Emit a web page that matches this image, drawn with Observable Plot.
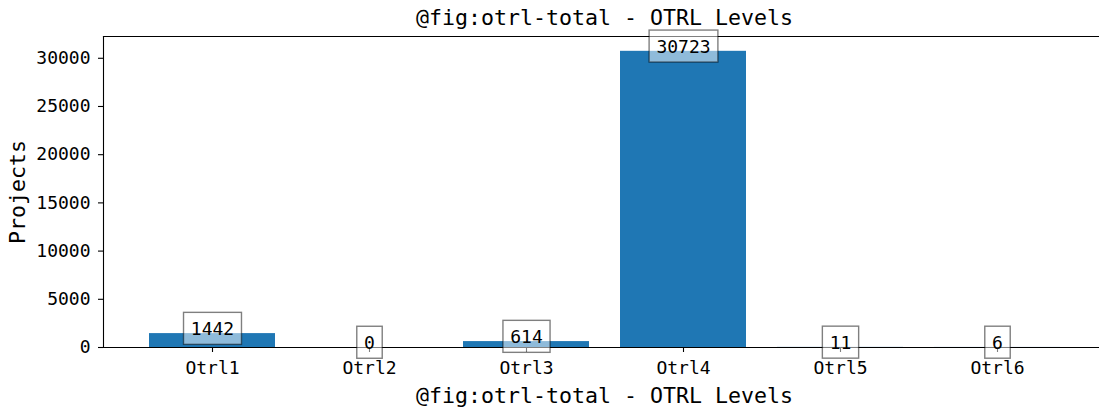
<!DOCTYPE html>
<html><head><meta charset="utf-8">
<script src="https://cdn.jsdelivr.net/npm/d3@7"></script>
<script src="https://cdn.jsdelivr.net/npm/@observablehq/plot@0.6"></script>
<style>body{margin:0;background:#fff} svg{font-family:"DejaVu Sans Mono",monospace}</style>
</head><body><div id="chart"></div>
<script>
const categories = ["Otrl1", "Otrl2", "Otrl3", "Otrl4", "Otrl5", "Otrl6"];
const values = [1442, 0, 614, 30723, 11, 6];
const yTicks = [0, 5000, 10000, 15000, 20000, 25000, 30000];
const titleText = "@fig:otrl-total - OTRL Levels";
const xLabel = "@fig:otrl-total - OTRL Levels";
const yLabel = "Projects";
const yMax = 32259;

const data = categories.map((c, i) => ({level: c, count: values[i]}));

const chart = Plot.plot({
  width: 1099, height: 410,
  marginLeft: 103, marginRight: 0, marginTop: 36, marginBottom: 63,
  style: {fontFamily: "DejaVu Sans Mono", fontSize: "18px", color: "#000", background: "#fff", overflow: "visible"},
  x: {type: "band", domain: categories, range: [133.5, 1075.5], paddingInner: 0.2, paddingOuter: 0.1, label: null},
  y: {domain: [0, yMax], label: null},
  marks: [
    Plot.barY(data, {x: "level", y: "count", fill: "#1f77b4"}),
    Plot.frame({anchor: "left", strokeWidth: 1.1}),
    Plot.frame({anchor: "top", strokeWidth: 1.1}),
    Plot.frame({anchor: "bottom", strokeWidth: 1.1}),
    Plot.axisX({tickSize: 5, tickPadding: 9, fontSize: 18, label: null, strokeWidth: 1.1}),
    Plot.axisY({ticks: yTicks, tickSize: 5, tickPadding: 8, fontSize: 18, label: null, strokeWidth: 1.1, tickFormat: d => String(d)}),
    Plot.text([titleText], {frameAnchor: "top", lineAnchor: "middle", dx: 3, dy: -18, fontSize: 21.6, fill: "#000"}),
    Plot.text([xLabel], {frameAnchor: "bottom", lineAnchor: "middle", dx: 3, dy: 49, fontSize: 21.6, fill: "#000"}),
    Plot.text([yLabel], {frameAnchor: "left", textAnchor: "middle", lineAnchor: "middle", dx: -85, rotate: -90, fontSize: 21.6, fill: "#000"}),
    Plot.text(data, {x: "level", y: "count", text: d => String(d.count), dy: -4.5, fontSize: 18, fill: "#000"})
  ]
});
document.getElementById("chart").appendChild(chart);

// boxes behind value labels
const groups = chart.querySelectorAll(":scope > g");
const labelGroup = groups[groups.length - 1];
labelGroup.querySelectorAll("text").forEach(t => {
  const b = t.getBBox();
  const padX = 7.3, padY = 5.5;
  const r = document.createElementNS("http://www.w3.org/2000/svg", "rect");
  r.setAttribute("x", b.x - padX);
  r.setAttribute("y", b.y - padY);
  r.setAttribute("width", b.width + 2 * padX);
  r.setAttribute("height", b.height + 2 * padY);
  r.setAttribute("fill", "#fff");
  r.setAttribute("fill-opacity", "0.5");
  r.setAttribute("stroke", "#000");
  r.setAttribute("stroke-opacity", "0.5");
  r.setAttribute("stroke-width", "1.4");
  const tr = t.getAttribute("transform");
  if (tr) r.setAttribute("transform", tr);
  t.parentNode.insertBefore(r, t);
});
</script>
</body></html>
